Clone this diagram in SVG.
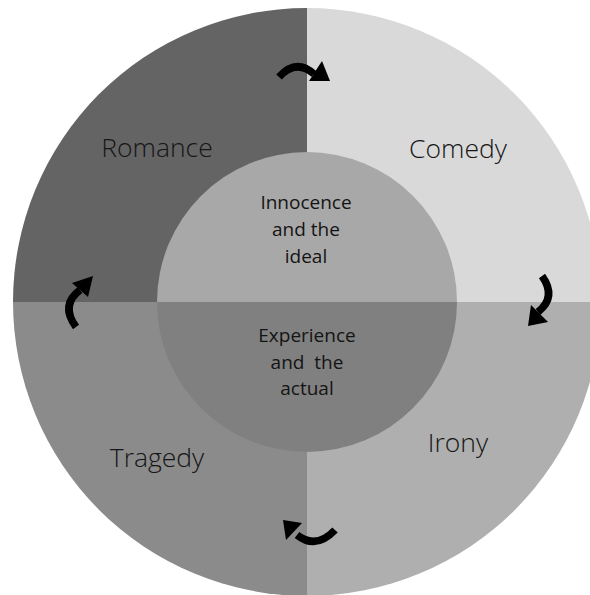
<svg xmlns="http://www.w3.org/2000/svg" width="590" height="595" viewBox="0 0 590 595">
<style>
.lbl{font-family:"Open Sans","Noto Sans","Liberation Sans",sans-serif;font-size:26.5px;font-weight:300;fill:#161616;text-anchor:middle}
.in{font-family:"Open Sans","Noto Sans","Liberation Sans",sans-serif;font-size:19px;font-weight:400;fill:#141414;text-anchor:middle}
.arc{fill:none;stroke:#000;stroke-width:7.5}
.head{fill:#000}
</style>
<defs>
<clipPath id="outer"><circle cx="307" cy="302" r="294"/></clipPath>
<clipPath id="inner"><circle cx="307" cy="302" r="150"/></clipPath>
</defs>
<rect width="590" height="595" fill="#fff"/>
<g id="quadrants" clip-path="url(#outer)">
<g id="romance"><rect x="0" y="0" width="307" height="302" fill="#646464"/></g>
<g id="comedy"><rect x="307" y="0" width="300" height="302" fill="#d9d9d9"/></g>
<g id="tragedy"><rect x="0" y="302" width="307" height="300" fill="#8b8b8b"/></g>
<g id="irony"><rect x="307" y="302" width="300" height="300" fill="#afafaf"/></g>
</g>
<g id="center" clip-path="url(#inner)">
<g id="innocence"><rect x="150" y="150" width="320" height="152" fill="#a8a8a8"/></g>
<g id="experience"><rect x="150" y="302" width="320" height="152" fill="#808080"/></g>
</g>
<g id="labels">
<text class="lbl" x="157" y="157">Romance</text>
<text class="lbl" x="458" y="158">Comedy</text>
<text class="lbl" x="157" y="467">Tragedy</text>
<text class="lbl" x="458" y="452">Irony</text>
<text class="in" x="306" y="209">Innocence</text>
<text class="in" x="306" y="236">and the</text>
<text class="in" x="306" y="263">ideal</text>
<text class="in" x="307" y="342">Experience</text>
<text class="in" x="307" y="369" xml:space="preserve">and  the</text>
<text class="in" x="307" y="395">actual</text>
</g>
<g id="connectors">
<path class="arc" d="M279,77 Q296,58 314,74"/>
<polygon class="head" points="322,61 309,81 330,81"/>
<path class="arc" d="M542,276 Q557,297 538,312"/>
<polygon class="head" points="531,305 548,322 528,326"/>
<path class="arc" d="M335,530 Q316,550 297,535"/>
<polygon class="head" points="283,520 302,523 286,540"/>
<path class="arc" d="M76,327 Q60,305 80,290"/>
<polygon class="head" points="72,283 93,276 88,297"/>
</g>
</svg>
